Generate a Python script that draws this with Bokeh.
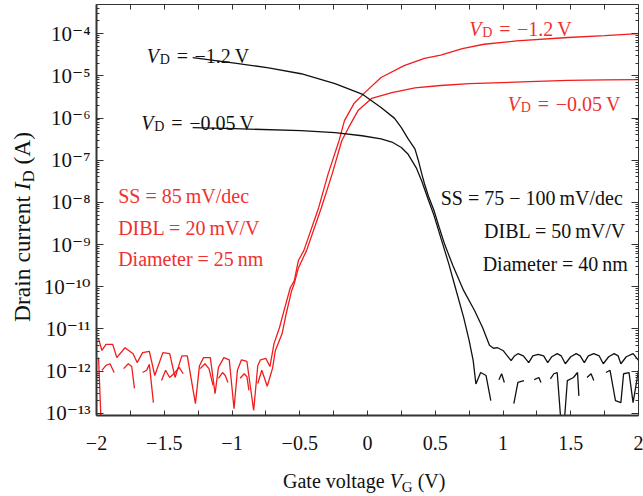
from bokeh.plotting import figure
from bokeh.models import (LogAxis, LinearAxis, FixedTicker, Label, Range1d,
                          CustomJSTickFormatter, Div)
from bokeh.layouts import row, column
from bokeh.embed import file_html
from bokeh.resources import INLINE

nan = float("nan")

# ---------------- data (gate voltage in V, drain current in A) ----------------
# black device (Diameter = 40 nm)
blk_hi_v = [-1.29, -0.98, -0.73, -0.49, -0.24, -0.04, 0.10, 0.20, 0.25, 0.30, 0.35, 0.375,
            0.40, 0.42, 0.45, 0.49, 0.53, 0.57, 0.63, 0.71, 0.79, 0.85, 0.90, 0.93, 0.96,
            1.00, 1.06, 1.085, 1.11, 1.15, 1.19, 1.22, 1.26, 1.30, 1.33, 1.36, 1.40, 1.43,
            1.46, 1.50, 1.54, 1.57, 1.60, 1.63, 1.67, 1.71, 1.74, 1.78, 1.82, 1.85, 1.87,
            1.91, 1.96, 2.00]
blk_hi_i = [2.7e-5, 2.0e-5, 1.55e-5, 1.12e-5, 6.5e-6, 3.7e-6, 1.78e-6, 9.8e-7, 5.9e-7, 3.2e-7,
            1.86e-7, 1.0e-7, 4.8e-8, 2.8e-8, 1.4e-8, 6.5e-9, 2.5e-9, 1.0e-9, 3.2e-10, 8.1e-11,
            2.75e-11, 1.07e-11, 4.1e-12, 3.5e-12, 3.6e-12, 3.1e-12, 1.78e-12, 2.3e-12, 2.6e-12,
            2.3e-12, 1.6e-12, 2.3e-12, 2.5e-12, 2.3e-12, 1.6e-12, 2.2e-12, 2.6e-12, 2.3e-12,
            1.5e-12, 2.2e-12, 2.6e-12, 2.3e-12, 1.6e-12, 2.3e-12, 2.6e-12, 2.3e-12, 1.5e-12,
            2.2e-12, 2.6e-12, 2.3e-12, 1.5e-12, 2.2e-12, 2.6e-12, 1.8e-12]

blk_lo_v = [-1.29, -0.98, -0.49, -0.24, -0.04, 0.10, 0.18, 0.25, 0.30, 0.36, 0.40, 0.45, 0.49,
            0.54, 0.57, 0.60, 0.64, 0.71, 0.75, 0.78, 0.80, 0.835, 0.875, 0.91, nan,
            0.97, 0.99, 1.01, nan, 1.08, 1.11, 1.155, nan, 1.23, 1.265, 1.28, nan,
            1.35, 1.375, 1.40, 1.43, 1.45, 1.475, 1.52, 1.55, 1.56, nan,
            1.62, 1.65, 1.67, nan, 1.76, 1.79, 1.83, 1.87, 1.89, 1.93, 1.96, 2.00]
blk_lo_i = [5.9e-7, 5.6e-7, 5.0e-7, 4.5e-7, 3.8e-7, 3.2e-7, 2.7e-7, 2.0e-7, 1.38e-7, 6.6e-8,
            3.2e-8, 1.12e-8, 5.0e-9, 1.48e-9, 7.2e-10, 3.5e-10, 1.2e-10, 1.86e-11, 5.4e-12,
            1.78e-12, 5.0e-13, 9.3e-13, 7.9e-13, 2.0e-13, nan,
            6.3e-13, 8.7e-13, 5.4e-13, nan, 1.7e-13, 5.4e-13, 6.0e-13, nan, 6.3e-13, 7.1e-13,
            5.4e-13, nan, 6.6e-13, 8.7e-13, 9.3e-13, 5e-14, 5e-14, 6.0e-13, 7.1e-13, 9.3e-13,
            2.6e-13, nan, 7.1e-13, 8.7e-13, 6.0e-13, nan, 9.3e-13, 1.05e-12, 2.0e-13, 1.8e-13,
            8.7e-13, 9.3e-13, 1.8e-13, 1.05e-12]

# red device (Diameter = 25 nm)
red_hi_v = [-1.985, -1.96, -1.93, -1.88, -1.85, -1.79, -1.73, -1.70, -1.66, -1.61, -1.57,
            -1.51, -1.46, -1.42, -1.37, -1.33, -1.27, -1.24, -1.21, -1.16, -1.125, -1.10,
            -1.06, -1.02, -0.985, -0.96, -0.93, -0.89, -0.84, -0.81, -0.79, -0.75, -0.72,
            -0.69, -0.65, -0.61, -0.57, -0.54, -0.51, -0.47, -0.36, -0.29, -0.21, -0.17,
            -0.10, -0.02, 0.10, 0.27, 0.42, 0.54, 0.70, 0.86, 1.10, 1.48, 1.75, 2.00]
red_hi_i = [5.9e-12, 3.1e-12, 4.3e-12, 4.3e-12, 2.1e-12, 3.6e-12, 2.6e-12, 1.6e-12, 2.75e-12,
            2.95e-12, 7.9e-13, 2.75e-12, 2.6e-12, 7.1e-13, 2.3e-12, 2.3e-12, 1.7e-13, 1.35e-12,
            2.1e-12, 2.1e-12, 2.95e-13, 1.23e-12, 2.1e-12, 1.86e-12, 1.29e-13, 1.05e-12,
            1.86e-12, 1.7e-12, 1.17e-13, 1.35e-12, 1.86e-12, 2.0e-12, 1.29e-12,
            4.5e-12, 1.07e-11, 3.2e-11, 9.5e-11, 1.4e-10, 4.2e-10, 7.2e-10, 7.6e-9, 4.8e-8,
            2.9e-7, 8.7e-7, 2.2e-6, 4.0e-6, 9.1e-6, 1.74e-5, 2.6e-5, 3.1e-5, 4.4e-5, 5.6e-5,
            6.7e-5, 8.1e-5, 9.0e-5, 1.0e-4]

red_lo_v = [-1.985, -1.965, nan, -1.96, -1.93, -1.90, -1.87, nan, -1.80, -1.765, -1.74, -1.72,
            nan, -1.66, -1.63, -1.61, -1.58, nan, -1.52, -1.49, -1.46, -1.42, -1.39, -1.36,
            nan, -1.235, -1.20, -1.17, -1.14, nan, -1.10, -1.07, -1.05, -1.03, nan,
            -0.94, -0.91, -0.89, -0.875, nan, -0.81, -0.78, -0.74, -0.70, -0.68, -0.63,
            -0.60, -0.56, -0.54, -0.51, -0.45, -0.34, -0.26, -0.19, -0.14, -0.07, 0.03, 0.18,
            0.35, 0.54, 0.75, 0.99, 1.25, 1.48, 1.75, 2.00]
red_lo_i = [2.1e-12, 5e-14, nan, 1.05e-12, 1.38e-12, 1.5e-12, 9.3e-13, nan, 1.15e-12, 1.5e-12,
            1.29e-12, 3.9e-13, nan, 9.3e-13, 1.05e-12, 1.45e-12, 1.8e-13, nan, 6.0e-13,
            1.05e-12, 7.1e-13, 9.3e-13, 1.23e-12, 8.7e-13, nan, 1.15e-12, 1.5e-12, 1.15e-12,
            4.6e-13, nan, 6.8e-13, 9.3e-13, 7.9e-13, 5.4e-13, nan, 6.8e-13, 8.7e-13, 7.4e-13,
            3.5e-13, nan, 5.1e-13, 1.05e-12, 4.4e-13, 1.2e-12, 3.1e-12, 7.8e-12, 2.3e-11,
            8.1e-11, 1.2e-10, 2.8e-10, 7.2e-10, 7.6e-9, 4.8e-8, 2.9e-7, 5.9e-7, 1.5e-6, 2.9e-6,
            4.0e-6, 5.2e-6, 5.9e-6, 6.5e-6, 6.9e-6, 7.4e-6, 7.8e-6, 8.0e-6, 8.1e-6]

# ---------------- ticks ----------------
x_tick_vals = [-2, -1.5, -1, -0.5, 0, 0.5, 1, 1.5, 2]
x_tick_labels = ["\u22122", "\u22121.5", "\u22121", "\u22120.5", "0", "0.5", "1", "1.5", "2"]
x_minor_vals = [-1.75, -1.25, -0.75, -0.25, 0.25, 0.75, 1.25, 1.75]
y_tick_vals = [1e-13, 1e-12, 1e-11, 1e-10, 1e-9, 1e-8, 1e-7, 1e-6, 1e-5, 1e-4]
y_tick_labels = ["10\u207b\u00b9\u00b3", "10\u207b\u00b9\u00b2", "10\u207b\u00b9\u00b9",
                 "10\u207b\u00b9\u2070", "10\u207b\u2079", "10\u207b\u2078", "10\u207b\u2077",
                 "10\u207b\u2076", "10\u207b\u2075", "10\u207b\u2074"]
y_minor_vals = [m * 10.0 ** k for k in range(-14, -3) for m in range(2, 10)]

x_title = ("Gate voltage ", "V", "G", " (V)")
y_title = ("Drain current ", "I", "D", " (A)")

RED_LINE = "#f21c1c"
RED_TEXT = "#ef3030"
BLACK = "#111111"
FONT = "Liberation Serif"

YDIV_W = 40
XDIV_H = 33

p = figure(width=643 - YDIV_W, height=496 - XDIV_H, output_backend="svg",
           toolbar_location=None,
           x_range=Range1d(-2, 2), y_range=Range1d(10 ** -13.05, 10 ** -3.31),
           y_axis_type="log", min_border_left=95 - YDIV_W, min_border_right=5,
           min_border_top=4, min_border_bottom=48)
p.grid.visible = False
p.outline_line_color = None
p.background_fill_color = "white"
p.border_fill_color = "white"

p.line(red_hi_v, red_hi_i, line_color=RED_LINE, line_width=1.3)
p.line(red_lo_v, red_lo_i, line_color=RED_LINE, line_width=1.3)
p.line(blk_hi_v, blk_hi_i, line_color=BLACK, line_width=1.3)
p.line(blk_lo_v, blk_lo_i, line_color=BLACK, line_width=1.3)

fmt_code = """
for (let i = 0; i < vals.length; i++) {
  const v = vals[i];
  const tol = Math.abs(v) > 0 ? 1e-6 * Math.abs(v) : 1e-9;
  if (Math.abs(v - tick) <= tol) return labs[i];
}
return "";
"""
xfmt = CustomJSTickFormatter(args=dict(vals=x_tick_vals, labs=x_tick_labels), code=fmt_code)
yfmt = CustomJSTickFormatter(args=dict(vals=y_tick_vals, labs=y_tick_labels), code=fmt_code)
blank = CustomJSTickFormatter(code="return '';")

xticker = FixedTicker(ticks=x_tick_vals, minor_ticks=x_minor_vals)
yticker = FixedTicker(ticks=y_tick_vals, minor_ticks=y_minor_vals)


def style_axis(ax, ticker, fmt, show, width):
    ax.ticker = ticker
    ax.formatter = fmt
    ax.axis_line_color = "#333333"
    ax.axis_line_width = width
    ax.major_tick_line_color = "#333333"
    ax.minor_tick_line_color = "#333333"
    ax.major_tick_out = 0
    ax.minor_tick_out = 0
    ax.major_label_text_font = FONT + ", DejaVu Serif"
    ax.major_label_text_color = "#111111"
    if not show:
        ax.major_label_text_font_size = "0px"
        ax.major_label_standoff = 0
        ax.axis_label_standoff = 0


xa = p.xaxis[0]
style_axis(xa, xticker, xfmt, True, 2)
xa.major_label_text_font_size = "20px"
xa.major_tick_in = 5
xa.minor_tick_in = 5
xa.major_label_standoff = 20

ya = p.yaxis[0]
style_axis(ya, yticker, yfmt, True, 2)
ya.major_label_text_font_size = "21px"
ya.major_tick_in = 7
ya.minor_tick_in = 3
ya.major_label_standoff = 6

top = LinearAxis()
style_axis(top, xticker, blank, False, 1)
top.major_tick_in = 5
top.minor_tick_in = 5
p.add_layout(top, "above")

right = LogAxis()
style_axis(right, yticker, blank, False, 1)
right.major_tick_in = 7
right.minor_tick_in = 3
p.add_layout(right, "right")


def txt(x, y, s, color=BLACK, size="20px", style="normal", xo=0, yo=0):
    p.add_layout(Label(x=x, y=y, text=s, text_font=FONT, text_font_size=size,
                       text_color=color, text_font_style=style, text_align="left",
                       text_baseline="alphabetic", x_offset=xo, y_offset=yo))


def vd(x, y, rest, color):
    txt(x, y, "V", color, style="italic")
    txt(x, y, "D", color, size="14px", xo=13, yo=-4)
    txt(x, y, rest, color, xo=30)


vd(-1.63, 10 ** -4.52, "=\u2004\u22121.2\u2009V", BLACK)
vd(-1.67, 10 ** -6.11, "=\u2004\u22120.05\u2009V", BLACK)
vd(0.75, 10 ** -3.88, "=\u2004\u22121.2\u2009V", RED_TEXT)
vd(1.035, 10 ** -5.66, "=\u2004\u22120.05\u2009V", RED_TEXT)

txt(-1.84, 10 ** -7.84, "SS = 85\u2009mV/dec", RED_TEXT)
txt(-1.84, 10 ** -8.60, "DIBL = 20\u2009mV/V", RED_TEXT)
txt(-1.84, 10 ** -9.33, "Diameter = 25\u2009nm", RED_TEXT)

txt(0.54, 10 ** -7.89, "SS = 75 \u2212 100\u2009mV/dec", BLACK)
txt(0.86, 10 ** -8.67, "DIBL = 50\u2009mV/V", BLACK)
txt(0.85, 10 ** -9.45, "Diameter = 40\u2009nm", BLACK)

# ---------------- axis titles (HTML, for italic + subscript) ----------------
SUB = "position:relative;top:4px;"
xdiv = Div(
    text=('<div style="position:relative;left:283px;top:8px;white-space:nowrap;'
          'font-family:\'Liberation Serif\';font-size:20px;line-height:20px;color:#111;">'
          f'{x_title[0]}<i>{x_title[1]}</i><span style="{SUB}font-size:15px;">{x_title[2]}</span>{x_title[3]}</div>'),
    width=643, height=XDIV_H, margin=(0, 0, 0, 0))
ydiv = Div(
    text=('<div style="position:relative;left:11px;top:322px;width:max-content;white-space:nowrap;'
          'transform-origin:0 0;transform:rotate(-90deg);'
          'font-family:\'Liberation Serif\';font-size:23.5px;line-height:23.5px;color:#111;">'
          f'{y_title[0]}<i>{y_title[1]}</i><span style="{SUB}font-size:16.5px;">{y_title[2]}</span>{y_title[3]}</div>'),
    width=YDIV_W, height=496 - XDIV_H, margin=(0, 0, 0, 0))

layout = column(row(ydiv, p, spacing=0), xdiv, spacing=0)

open("out.html", "w").write(file_html(layout, INLINE))
